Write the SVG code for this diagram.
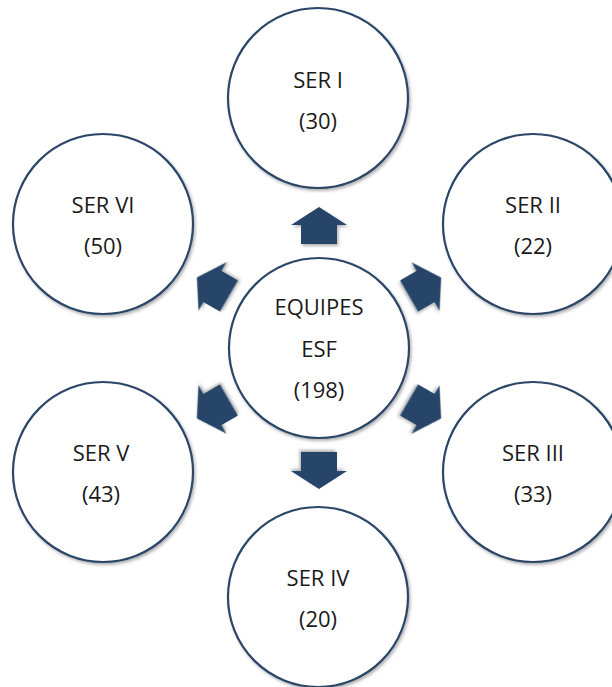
<svg xmlns="http://www.w3.org/2000/svg" width="612" height="687" viewBox="0 0 612 687">
<style>
.node circle{fill:#ffffff;stroke:#2c4668;stroke-width:2.2;filter:url(#sh)}
.node text{font-family:"Open Sans","Noto Sans",sans-serif;font-size:22px;fill:#1a1a1a;text-anchor:middle}
.arr{fill:#264468;filter:url(#sh)}
</style>
<defs>
<filter id="sh" x="-20%" y="-20%" width="140%" height="140%">
<feDropShadow dx="1.5" dy="2" stdDeviation="1.8" flood-color="#000" flood-opacity="0.3"/>
</filter>
<path id="ar" d="M0,-18.5 L28,-0.5 L18,-0.5 L18,18.5 L-18,18.5 L-18,-0.5 L-28,-0.5 Z"/>
</defs>
<rect width="612" height="687" fill="#ffffff"/>
<g id="connectors">
<use href="#ar" class="arr" transform="translate(319,225.5)"/>
<use href="#ar" class="arr" transform="translate(425.1,286.75) rotate(60)"/>
<use href="#ar" class="arr" transform="translate(425.1,409.25) rotate(120)"/>
<use href="#ar" class="arr" transform="translate(319,470.5) rotate(180)"/>
<use href="#ar" class="arr" transform="translate(212.9,409.25) rotate(240)"/>
<use href="#ar" class="arr" transform="translate(212.9,286.75) rotate(300)"/>
</g>
<g id="center" class="node">
<circle cx="319" cy="348" r="90"/>
<text x="319" y="315">EQUIPES</text>
<text x="319" y="357">ESF</text>
<text x="319" y="398">(198)</text>
</g>
<g id="ser1" class="node">
<circle cx="318" cy="98" r="90"/>
<text x="318" y="88">SER I</text>
<text x="318" y="129">(30)</text>
</g>
<g id="ser2" class="node">
<circle cx="533" cy="224" r="90"/>
<text x="533" y="213">SER II</text>
<text x="533" y="254">(22)</text>
</g>
<g id="ser3" class="node">
<circle cx="533" cy="472" r="90"/>
<text x="533" y="461">SER III</text>
<text x="533" y="502">(33)</text>
</g>
<g id="ser4" class="node">
<circle cx="318" cy="597" r="90"/>
<text x="318" y="586">SER IV</text>
<text x="318" y="627">(20)</text>
</g>
<g id="ser5" class="node">
<circle cx="103" cy="472" r="90"/>
<text x="101" y="461">SER V</text>
<text x="101" y="502">(43)</text>
</g>
<g id="ser6" class="node">
<circle cx="103" cy="224" r="90"/>
<text x="103" y="213">SER VI</text>
<text x="103" y="254">(50)</text>
</g>
</svg>
